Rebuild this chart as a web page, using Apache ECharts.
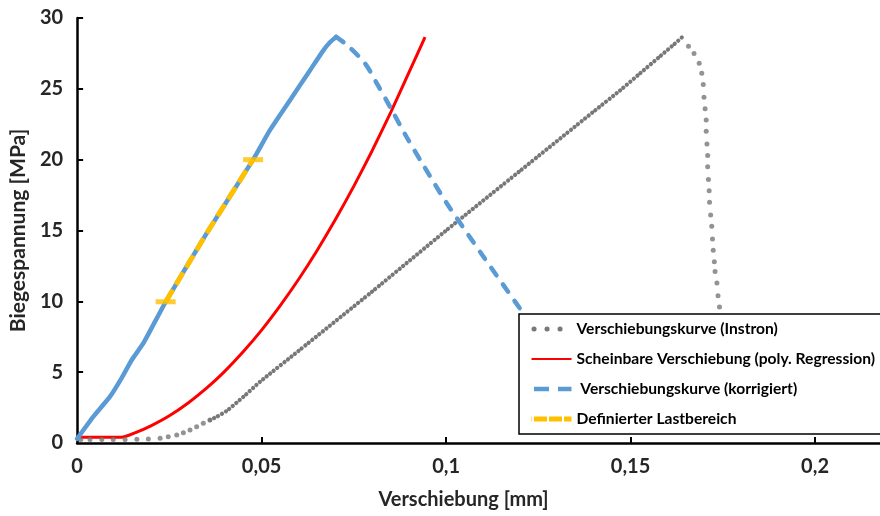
<!DOCTYPE html>
<html>
<head>
<meta charset="utf-8">
<script src="https://cdn.jsdelivr.net/npm/echarts@6/dist/echarts.min.js"></script>
<style>
  html, body { margin: 0; padding: 0; background: #fff; }
  #chart { width: 880px; height: 516px; }
</style>
</head>
<body>
<div id="chart"></div>
<script>
// Biegeversuch: Verschiebung [mm] gegen Biegespannung [MPa]

// Tick labels
const xTicks = [0, 0.05, 0.1, 0.15, 0.2];
const yTicks = [0, 5, 10, 15, 20, 25, 30];

// Instron curve: sparse measuring points at the start
const instronStart = [
  [0.001, 0.25], [0.0035, 0.25], [0.0067, 0.25], [0.0098, 0.25], [0.013, 0.25],
  [0.0162, 0.26], [0.0193, 0.28], [0.0225, 0.33], [0.0247, 0.45], [0.027, 0.56],
  [0.0288, 0.73], [0.0306, 0.92], [0.0324, 1.15], [0.0342, 1.39], [0.036, 1.62]
];
// Instron curve: dense rising part up to the maximum
const instronRise = [
  [0.036, 1.62], [0.0379, 1.86], [0.0406, 2.28], [0.0451, 3.27], [0.0496, 4.33],
  [0.06, 6.5], [0.08, 10.7], [0.1, 15.0], [0.12, 19.2], [0.14, 23.4],
  [0.1472, 24.9], [0.1526, 26.1], [0.158, 27.3], [0.1616, 28.1], [0.1639, 28.63]
];
// Instron curve: sparse points after the maximum
const instronFall = [
  [0.1657, 28.0], [0.1672, 27.5], [0.1686, 26.8], [0.1693, 26.1], [0.1697, 25.3],
  [0.1699, 24.4], [0.1702, 23.6], [0.1705, 22.8], [0.1705, 22.0], [0.1707, 21.1],
  [0.1709, 20.3], [0.1709, 19.5], [0.1711, 18.6], [0.1713, 17.8], [0.1714, 17.0],
  [0.1717, 16.1], [0.172, 15.3], [0.1722, 14.4], [0.1724, 13.6], [0.1727, 12.8],
  [0.1729, 12.1], [0.1734, 11.3], [0.1737, 10.4], [0.1741, 9.6]
];

// Apparent displacement (polynomial regression)
const regression = [
  [0, 0.4], [0.012, 0.4], [0.016, 0.75], [0.02, 1.21], [0.025, 1.92], [0.03, 2.81],
  [0.035, 3.85], [0.04, 5.06], [0.045, 6.44], [0.05, 7.97], [0.055, 9.68],
  [0.06, 11.54], [0.065, 13.57], [0.07, 15.77], [0.075, 18.13], [0.08, 20.65],
  [0.085, 23.34], [0.09, 26.19], [0.0943, 28.65]
];

// Corrected displacement curve
const corrRise = [
  [0, 0.3], [0.0044, 1.86], [0.0089, 3.27], [0.0121, 4.6], [0.0148, 5.86],
  [0.018, 7.06], [0.024, 9.97], [0.0351, 14.8], [0.0477, 20.0], [0.0523, 22.1],
  [0.0577, 24.2], [0.0631, 26.3], [0.0667, 27.7], [0.0686, 28.3], [0.0702, 28.67]
];
const corrFall = [
  [0.0702, 28.67], [0.0731, 28.1], [0.078, 26.8], [0.0812, 25.4], [0.0853, 23.5],
  [0.0893, 21.6], [0.0934, 19.8], [0.1, 17.0], [0.11, 13.2], [0.12, 9.5], [0.126, 7.3]
];

// Defined load range (10 to 20 MPa)
const loadRange = [[0.024, 9.97], [0.0351, 14.8], [0.0477, 20.0]];
const loadRangeEnds = [[0.024, 9.97], [0.0477, 20.0]];

const GRAY = '#787878', RED = '#ff0000', BLUE = '#5b9bd5', YELLOW = '#ffc000';
const FONT = 'Lato';
const TEXT = '#262626';
const comma = v => String(v).replace('.', ',');
const noMarker = { color: 'rgba(0,0,0,0)', opacity: 0, borderWidth: 0 };

const chart = echarts.init(document.getElementById('chart'), null, { renderer: 'canvas' });

chart.setOption({
  animation: false,
  backgroundColor: '#fff',
  grid: { left: 77, right: 0, top: 18, bottom: 73, containLabel: false },
  xAxis: {
    type: 'value', min: 0, max: 0.2176, interval: 0.05,
    name: 'Verschiebung [mm]', nameLocation: 'middle', nameGap: 47,
    nameTextStyle: { fontFamily: FONT, fontSize: 20, fontWeight: 'bold', color: TEXT, padding: [0, 30, 0, 0] },
    axisLine: { lineStyle: { color: '#000', width: 2.5 } },
    axisTick: { inside: true, length: 6, lineStyle: { color: '#000', width: 2 }, customValues: xTicks.slice(1) },
    axisLabel: { customValues: xTicks, formatter: comma, margin: 14, fontFamily: FONT, fontSize: 20, fontWeight: 'bold', color: TEXT },
    splitLine: { show: false }
  },
  yAxis: {
    type: 'value', min: 0, max: 30, interval: 5,
    name: 'Biegespannung [MPa]', nameLocation: 'middle', nameGap: 48, nameRotate: 90,
    nameTextStyle: { fontFamily: FONT, fontSize: 21, fontWeight: 'bold', color: TEXT },
    axisLine: { show: true, lineStyle: { color: '#000', width: 2.5 } },
    axisTick: { show: true, inside: true, length: 6, lineStyle: { color: '#000', width: 2 }, customValues: yTicks.slice(1) },
    axisLabel: { customValues: yTicks, margin: 14, fontFamily: FONT, fontSize: 20, fontWeight: 'bold', color: TEXT },
    splitLine: { show: false }
  },
  legend: {
    orient: 'vertical', left: 519, top: 314, z: 10,
    backgroundColor: '#fff', borderColor: '#000', borderWidth: 1.5, borderRadius: 0,
    padding: [5, 10, 5, 10], itemGap: 10, itemWidth: 40, itemHeight: 14,
    itemStyle: noMarker,
    textStyle: { fontFamily: FONT, fontSize: 15.6, fontWeight: 'bold', color: '#000', lineHeight: 20 },
    data: [
      { name: 'Verschiebungskurve (Instron)', itemStyle: noMarker, lineStyle: { type: [0.1, 12.9], width: 5, cap: 'round', dashOffset: -2.5 } },
      { name: 'Scheinbare Verschiebung (poly. Regression)', itemStyle: noMarker },
      { name: ' Verschiebungskurve (korrigiert)', itemStyle: noMarker, lineStyle: { type: [15, 9], width: 4.5, cap: 'butt' } },
      { name: 'Definierter Lastbereich', itemStyle: noMarker, lineStyle: { type: [13, 2], width: 5, cap: 'butt' } }
    ]
  },
  series: [
    {
      name: 'Scheinbare Verschiebung (poly. Regression)', type: 'line', data: regression,
      symbol: 'none', smooth: 0.2, z: 2,
      lineStyle: { color: RED, width: 3 }, itemStyle: { color: RED }
    },
    {
      name: 'Verschiebungskurve (Instron)', type: 'line', data: instronRise,
      symbol: 'none', smooth: 0.2, z: 3,
      lineStyle: { color: GRAY, width: 4.2, type: [0.1, 4.4], cap: 'round' }, itemStyle: { color: GRAY }
    },
    {
      name: 'Instron Messpunkte Anfang', type: 'scatter', data: instronStart,
      symbol: 'circle', symbolSize: 5, z: 3, itemStyle: { color: GRAY }
    },
    {
      name: 'Instron Messpunkte Bruch', type: 'scatter', data: instronFall,
      symbol: 'circle', symbolSize: 5, z: 3, itemStyle: { color: GRAY }
    },
    {
      name: 'Korrigiert Anstieg', type: 'line', data: corrRise,
      symbol: 'none', smooth: 0.15, z: 4,
      lineStyle: { color: BLUE, width: 4.5, cap: 'round', join: 'round' }, itemStyle: { color: BLUE }
    },
    {
      name: ' Verschiebungskurve (korrigiert)', type: 'line', data: corrFall,
      symbol: 'none', smooth: 0.3, z: 4,
      lineStyle: { color: BLUE, width: 4.5, type: [9, 11], cap: 'round' }, itemStyle: { color: BLUE }
    },
    {
      name: 'Definierter Lastbereich', type: 'line', data: loadRange,
      symbol: 'none', z: 5,
      lineStyle: { color: YELLOW, width: 5, type: [14, 6], cap: 'butt' }, itemStyle: { color: YELLOW }
    },
    {
      name: 'Lastbereich Grenzen', type: 'scatter', data: loadRangeEnds,
      symbol: 'rect', symbolSize: [20, 5], z: 5, itemStyle: { color: YELLOW }
    }
  ]
});
</script>
</body>
</html>
